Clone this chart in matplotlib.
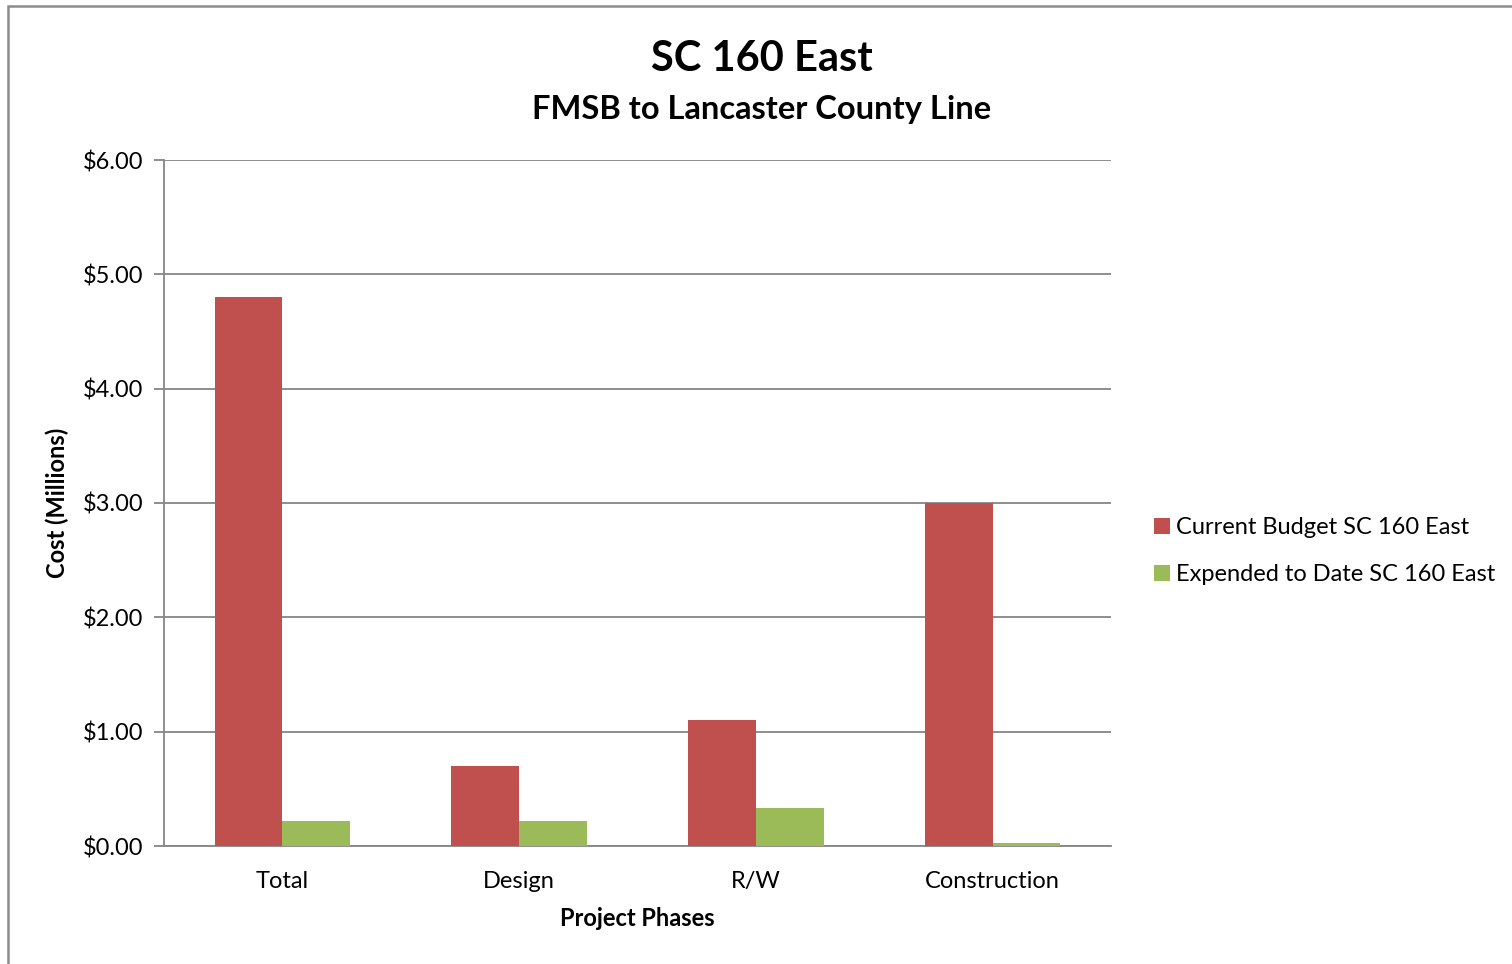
import numpy as np
import matplotlib
matplotlib.use("Agg")
import matplotlib.pyplot as plt
from matplotlib.patches import Rectangle
from matplotlib.ticker import FuncFormatter, MultipleLocator

plt.rcParams['font.family'] = ['Lato', 'DejaVu Sans']

phases = ["Total", "Design", "R/W", "Construction"]
budget = [4.80, 0.70, 1.10, 3.00]
expended = [0.22, 0.22, 0.33, 0.03]
series_names = ["Current Budget SC 160 East", "Expended to Date SC 160 East"]
colors = ["#C0504D", "#9BBB59"]

W, H = 1512, 964
fig = plt.figure(figsize=(W / 100, H / 100), dpi=100)
ax = fig.add_axes([164 / W, 1 - 846 / H, (1111 - 164) / W, (846 - 160) / H])

# outer chart border
fig.patches.append(Rectangle((8 / W, -0.1), 1.2, 1 - 6 / H + 0.1, transform=fig.transFigure,
                             fill=False, edgecolor="#8C8C8C", linewidth=1.8))

x = np.arange(len(phases))
bw = 1 / 3.5
ax.bar(x - bw / 2, budget, bw, color=colors[0], label=series_names[0], zorder=3)
ax.bar(x + bw / 2, expended, bw, color=colors[1], label=series_names[1], zorder=3)

ax.set_xlim(-0.5, len(phases) - 0.5)
ax.set_ylim(0, 6)
ax.yaxis.set_major_locator(MultipleLocator(1))
ax.yaxis.set_major_formatter(FuncFormatter(lambda v, p: f"${v:.2f}"))
ax.set_xticks(x)
ax.set_xticklabels(phases)
ax.grid(axis='y', color="#868686", linewidth=1.3, zorder=0)
for s in ['top', 'right']:
    ax.spines[s].set_visible(False)
for s in ['left', 'bottom']:
    ax.spines[s].set_color("#868686")
    ax.spines[s].set_linewidth(1.3)
ax.tick_params(axis='y', length=7, width=1.3, color="#868686", labelsize=17, pad=8)
ax.tick_params(axis='x', length=0, labelsize=17, pad=18)

ax.set_xlabel("Project Phases", fontsize=17, fontweight='bold', labelpad=11)
ax.set_ylabel("Cost (Millions)", fontsize=17, fontweight='bold', labelpad=10)

fig.text(762 / W, 1 - 59 / H, "SC 160 East", ha='center', va='center', fontsize=30, fontweight='bold')
fig.text(762 / W, 1 - 109 / H, "FMSB to Lancaster County Line", ha='center', va='center',
         fontsize=23.5, fontweight='bold')

fig.legend(loc='center left', bbox_to_anchor=(1133 / W, 1 - 551 / H), frameon=False,
           fontsize=17, handlelength=0.65, handleheight=0.65, handletextpad=0.25, labelspacing=1.1)

fig.savefig("out.png", dpi=100)
